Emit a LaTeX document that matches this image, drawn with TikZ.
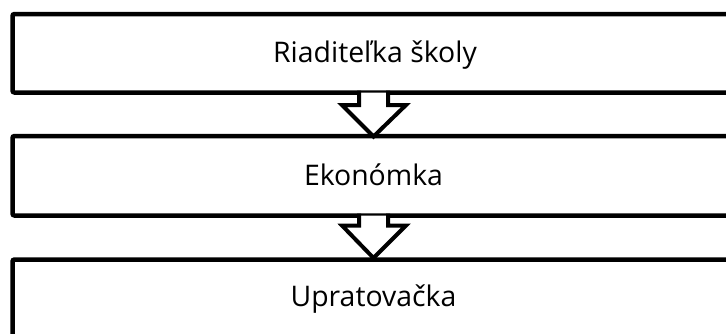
\documentclass[tikz,border=0pt]{standalone}
\usepackage{fontspec}
\setmainfont{Open Sans}
\usetikzlibrary{calc}
\begin{document}
\begin{tikzpicture}[x=1bp,y=-1bp,
  boxstyle/.style={draw=black,line width=4.5bp,rounded corners=2bp,fill=white},
  lbl/.style={anchor=base,inner sep=0pt,font=\fontsize{28.5}{32}\selectfont},
  arrowline/.style={draw=black,line width=4bp,line join=miter},
  arrowfill/.style={fill=white,draw=none}]
\useasboundingbox (0,0) rectangle (726,333);
\draw[boxstyle] (12.5,14) rectangle (745,92.5);
\draw[boxstyle] (12.5,136) rectangle (745,215.5);
\draw[boxstyle] (12.5,259.5) rectangle (745,345);
\coordinate (b1s) at (373.5,92.5);
\coordinate (b2n) at (373.5,136.5);
\coordinate (b2s) at (373.5,215.5);
\coordinate (b3n) at (373.5,258);
\node[lbl] (t1) at (375,62) {Riaditeľka školy};
\node[lbl] (t2) at (373.5,185) {Ekonómka};
\node[lbl] (t3) at (373.5,306) {Upratovačka};
% arrow 1
\fill[arrowfill] ($(b1s)+(-14.5,0)$) -- ($(b1s)+(-14.5,12.5)$) -- ($(b1s)+(-31.5,12.5)$) -- (b2n) -- ($(b1s)+(32.5,12.5)$) -- ($(b1s)+(14.5,12.5)$) -- ($(b1s)+(14.5,0)$) -- cycle;
\draw[arrowline] ($(b1s)+(-14.5,-2)$) -- ($(b1s)+(-14.5,12.5)$) -- ($(b1s)+(-31.5,12.5)$) -- (b2n) -- ($(b1s)+(32.5,12.5)$) -- ($(b1s)+(14.5,12.5)$) -- ($(b1s)+(14.5,-2)$);
% arrow 2
\fill[arrowfill] ($(b2s)+(-14.5,0)$) -- ($(b2s)+(-14.5,10)$) -- ($(b2s)+(-31.5,10)$) -- (b3n) -- ($(b2s)+(32.5,10)$) -- ($(b2s)+(14.5,10)$) -- ($(b2s)+(14.5,0)$) -- cycle;
\draw[arrowline] ($(b2s)+(-14.5,-2)$) -- ($(b2s)+(-14.5,10)$) -- ($(b2s)+(-31.5,10)$) -- (b3n) -- ($(b2s)+(32.5,10)$) -- ($(b2s)+(14.5,10)$) -- ($(b2s)+(14.5,-2)$);
\end{tikzpicture}
\end{document}
